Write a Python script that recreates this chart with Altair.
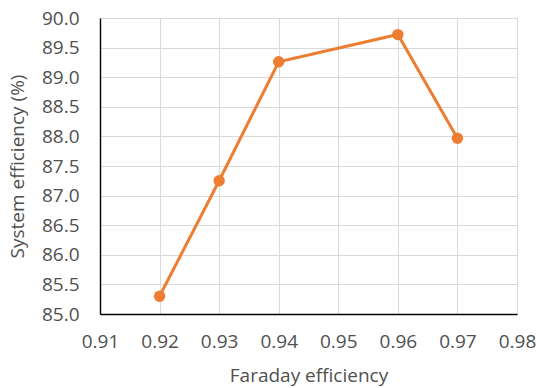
import altair as alt
import pandas as pd

faraday = [0.92, 0.93, 0.94, 0.96, 0.97]
system_eff = [85.30, 87.25, 89.26, 89.72, 87.97]
x_ticks = [0.91, 0.92, 0.93, 0.94, 0.95, 0.96, 0.97, 0.98]
y_ticks = [85.0, 85.5, 86.0, 86.5, 87.0, 87.5, 88.0, 88.5, 89.0, 89.5, 90.0]

df = pd.DataFrame({"x": faraday, "y": system_eff})

FONT = "Open Sans"
ORANGE = "#ED7D31"
W, H = 417, 296

x_enc = alt.X(
    "x:Q",
    scale=alt.Scale(domain=[0.91, 0.98], nice=False, zero=False),
    axis=alt.Axis(
        values=x_ticks, format=".2f", title="Faraday efficiency",
        ticks=False, tickSize=0, labelPadding=18,
        labelFlush=False, labelOverlap=False, labelBound=False,
        titleX=W / 2, titleY=67, titleAlign="center", titleBaseline="alphabetic",
        titleAnchor="middle",
    ),
)
y_enc = alt.Y(
    "y:Q",
    scale=alt.Scale(domain=[85, 90], nice=False, zero=False),
    axis=alt.Axis(
        values=y_ticks, format=".1f", title="System efficiency (%)",
        ticks=False, tickSize=0, labelPadding=21,
        labelFlush=False, labelOverlap=False, labelBound=False,
        titleX=-83, titleY=H / 2, titleAngle=-90, titleAlign="center",
        titleBaseline="middle", titleAnchor="middle",
    ),
)

base = alt.Chart(df).encode(x=x_enc, y=y_enc)
line = base.mark_line(color=ORANGE, strokeWidth=3)
pts = base.mark_point(filled=True, color=ORANGE, size=130, opacity=1)

chart = (
    alt.layer(line, pts)
    .properties(
        width=W, height=H,
        autosize=alt.AutoSizeParams(type="none"),
        padding={"left": 100, "top": 18, "right": 22, "bottom": 74},
        background="white",
    )
    .configure_view(stroke=None)
    .configure_axis(
        grid=True, gridColor="#D9D9D9", gridWidth=1,
        domainColor="#000000", domainWidth=1.4,
        labelFont=FONT, labelFontSize=19, labelColor="#505050",
        titleFont=FONT, titleFontSize=19, titleColor="#505050", titleFontWeight="normal",
    )
)

chart.save("out.html", embed_options={"renderer": "svg", "actions": False})
